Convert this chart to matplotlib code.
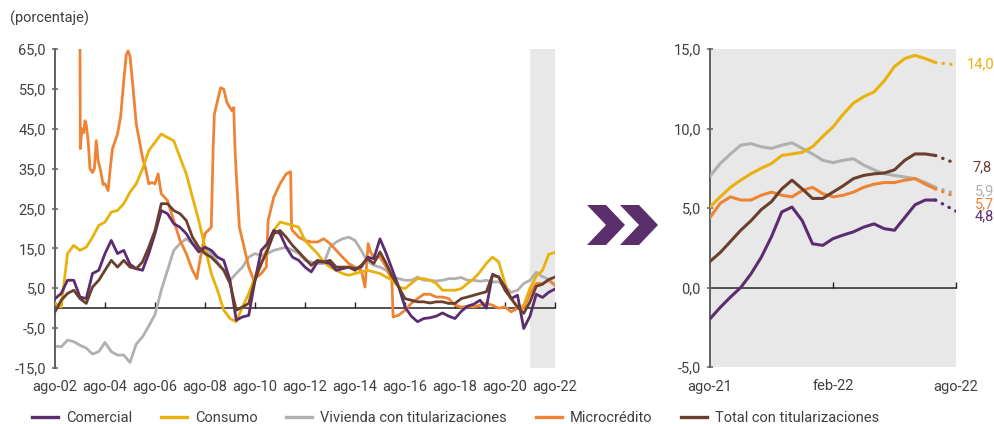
import matplotlib
matplotlib.use('Agg')
import matplotlib.pyplot as plt
import numpy as np
from matplotlib.patches import Polygon
from matplotlib.lines import Line2D
from matplotlib.ticker import FuncFormatter

plt.rcParams['font.family'] = ['Roboto', 'DejaVu Sans']

# ---------------- data (left panel: quarterly, from ago-02) ----------------
start_year = 2002 + 7 / 12  # ago-02
n_quarters = 81
x_tick_labels = ['ago-02', 'ago-04', 'ago-06', 'ago-08', 'ago-10', 'ago-12',
                 'ago-14', 'ago-16', 'ago-18', 'ago-20', 'ago-22']

comercial = [2.4, 3.7, 7.0, 7.0, 2.8, 2.4, 8.7, 9.5, 13.7, 17.0, 13.7, 14.5, 11.0, 9.9, 9.5, 13.7,
             18.7, 24.5, 23.7, 21.2, 20.3, 18.7, 16.2, 14.1, 15.3,
             14.5, 12.8, 12.0, 7.0, -3.0, -2.2, -1.8, 7.0, 14.5, 16.2, 19.5, 18.7, 15.3, 12.8, 12.0,
             10.3, 9.1, 11.6, 11.6, 11.2, 9.5, 9.9, 10.3, 9.9, 10.3,
             12.8, 12.4, 17.4, 13.7, 9.5, 5.3, 0.3, -2.0, -3.4, -2.6, -2.4, -2.0, -1.2, -2.0, -2.6,
             -0.8, 0.5, 1.0, 2.0, 0.0, 8.5, 7.8, 5.3, 2.4, 3.25, -5.1, -2.0, 3.5, 2.7, 4.0, 4.8]
consumo = [1.2, 0.3, 13.7, 15.75, 14.5, 15.3, 17.8, 20.75, 21.6, 24.1, 24.5, 26.2, 29.1, 31.2, 34.9,
           39.5, 41.6, 43.7, 42.8, 42.0, 37.8, 33.7, 27.8, 22.0, 15.3,
           8.7, 4.5, -0.5, -2.6, -3.4, 0.3, 3.7, 7.8, 11.2, 15.3, 19.5, 21.6, 21.2, 20.75, 20.3,
           17.0, 15.3, 13.7, 11.6, 10.3, 9.5, 8.7, 8.25, 8.7, 9.1,
           9.5, 9.1, 8.7, 7.8, 7.0, 5.3, 4.9, 6.2, 7.4, 7.4, 7.0, 6.2, 4.5, 4.5, 4.5,
           4.9, 6.2, 7.4, 9.1, 11.2, 12.8, 11.6, 6.2, 2.4, 0.0, 0.75, 5.0, 8.0, 9.5, 13.5, 14.0]
vivienda = [-9.5, -9.7, -8.0, -8.4, -9.3, -10.0, -11.5, -10.9, -8.6, -10.9, -11.75, -11.75, -13.6,
            -9.0, -7.2, -4.5, -1.6, 4.5, 9.5, 14.5, 16.2, 17.4, 16.2, 14.9, 14.5,
            13.7, 11.6, 9.5, 7.0, 8.7, 10.3, 12.8, 13.7, 13.2, 13.7, 14.5, 14.9, 15.3, 14.5, 13.7,
            12.0, 11.6, 11.2, 11.2, 15.3, 16.6, 17.4, 17.8, 17.0, 14.5,
            11.8, 10.75, 10.3, 9.5, 7.8, 7.4, 7.0, 7.0, 7.8, 7.0, 7.0, 6.8, 7.0, 7.4, 7.4,
            7.7, 7.0, 7.0, 6.75, 7.0, 6.6, 6.6, 5.3, 4.0, 4.5, 6.2, 7.0, 9.0, 7.9, 7.2, 5.9]
total = [-0.9, 2.0, 3.7, 4.5, 2.4, 1.2, 5.3, 7.0, 9.5, 12.0, 10.3, 12.0, 10.3, 9.9, 11.6, 15.3,
         19.5, 26.2, 26.2, 24.5, 23.7, 22.0, 17.8, 15.3, 13.7,
         12.8, 11.2, 9.5, 6.2, -0.5, 0.3, 1.2, 7.0, 11.2, 14.5, 18.7, 19.5, 17.8, 15.75, 14.1,
         12.4, 10.75, 12.0, 11.6, 12.0, 10.3, 10.3, 10.3, 9.5, 10.75,
         12.4, 11.2, 14.1, 11.2, 7.8, 5.3, 2.4, 2.0, 1.6, 1.6, 1.3, 1.6, 1.6, 1.2, 1.2,
         2.4, 2.8, 3.25, 3.7, 4.1, 8.25, 7.8, 4.5, 2.4, 0.3, -1.3, 1.6, 5.5, 6.0, 7.2, 7.8]
# Microcredito: irregular dates (quarter index since ago-02) and values
micro_q = [4.0, 4.05, 4.3, 4.6, 4.8, 5.0, 5.3, 5.6, 6.0, 6.3, 6.6, 6.9, 7.3, 7.7, 8.0, 8.5, 8.9,
           9.2, 10.0, 10.5, 11.0, 11.4, 11.7, 12.0, 12.5, 13.0, 13.5, 14.0, 14.5, 15.0, 15.5,
           16.0, 16.5, 17.0, 18.0, 19.0, 20.0, 21.0, 22.0, 22.7, 23.0, 24.0, 24.5, 25.0, 25.3,
           25.5, 26.0, 26.5, 27.0, 27.5, 28.0, 28.3, 28.6, 28.8, 29.0, 29.5, 30.0, 31.0, 31.8,
           32.0, 33.0, 33.8, 34.1, 35.0, 36.0, 37.0, 37.7, 37.85, 38.0, 39.0, 40.0, 41.0, 42.0,
           43.0, 44.0, 45.0, 46.0, 47.0, 48.0, 49.0, 49.6, 50.1, 50.5, 51.0, 52.0, 53.0, 53.9,
           54.1, 55.0, 56.0, 57.0, 58.0, 59.0, 60.0, 61.0, 62.0, 63.0, 64.0, 65.0, 66.0, 67.0,
           68.0, 69.0, 70.0, 71.0, 72.0, 73.0, 74.0, 75.0, 76.0, 77.0, 78.0, 79.0, 80.0]
micro_v = [65.0, 40.0, 45.0, 44.0, 47.0, 46.0, 42.0, 35.0, 34.0, 35.0, 42.0, 37.0, 34.5, 31.0,
           31.2, 29.5, 36.0, 40.0, 43.7, 48.0, 57.0, 63.5, 64.5, 63.2, 55.0, 46.2, 42.0, 37.8,
           35.0, 31.2, 31.5, 31.2, 33.7, 28.7, 27.0, 22.0, 17.0, 13.7, 9.5, 7.4, 10.3, 18.7,
           19.5, 20.3, 40.0, 48.7, 52.0, 55.3, 54.9, 51.6, 50.3, 49.5, 50.3, 40.0, 33.7, 20.3,
           17.0, 10.3, 7.0, 7.4, 8.7, 10.3, 22.0, 27.8, 31.2, 33.7, 34.2, 20.0, 19.5, 17.8,
           17.0, 16.6, 16.6, 17.4, 16.2, 14.5, 12.8, 11.2, 10.3, 9.5, 5.3, 16.2, 14.0, 12.8,
           12.8, 10.3, 7.0, -2.2, -1.75, -0.5, 1.2, 2.4, 3.5, 3.5, 2.8, 2.8, 2.4, 0.75, 0.3,
           0.5, 0.3, 0.75, 1.2, 0.75, 0.0, 0.3, -0.9, 0.0, 0.0, 3.7, 6.2, 6.2, 7.0, 5.7]

# ---------------- data (right panel: ago-21 .. ago-22, half-month steps) ----------------
r_months = [i * 0.5 for i in range(23)]           # 0 .. 11 months after ago-21
r_tick_pos = [0, 6, 12]
r_tick_labels = ['ago-21', 'feb-22', 'ago-22']
comercial_r = [-1.97, -1.25, -0.6, 0.0, 0.86, 1.9, 3.2, 4.75, 5.06, 4.2, 2.75, 2.65, 3.07, 3.3,
               3.5, 3.8, 4.0, 3.7, 3.6, 4.4, 5.2, 5.5, 5.5]
consumo_r = [5.06, 5.7, 6.3, 6.75, 7.16, 7.5, 7.8, 8.3, 8.4, 8.5, 8.85, 9.5, 10.1, 10.9, 11.6,
             12.0, 12.3, 13.0, 13.9, 14.4, 14.6, 14.4, 14.15]
vivienda_r = [7.0, 7.8, 8.4, 8.95, 9.05, 8.85, 8.75, 8.95, 9.1, 8.75, 8.4, 8.0, 7.85, 8.0, 8.1,
              7.7, 7.4, 7.15, 7.05, 6.95, 6.85, 6.6, 6.3]
micro_r = [4.4, 5.3, 5.7, 5.5, 5.5, 5.8, 6.0, 5.8, 5.7, 6.1, 6.3, 5.9, 5.7, 5.8, 6.0, 6.3, 6.5,
           6.6, 6.6, 6.75, 6.85, 6.5, 6.2]
total_r = [1.64, 2.2, 2.9, 3.6, 4.2, 4.9, 5.4, 6.2, 6.75, 6.2, 5.6, 5.6, 6.0, 6.4, 6.85, 7.05,
           7.15, 7.2, 7.4, 8.0, 8.4, 8.4, 8.3]
proj_months = [11, 12]
proj_final = {'Comercial': 4.8, 'Consumo': 14.0, 'Vivienda con titularizaciones': 5.9,
              'Microcrédito': 5.7, 'Total con titularizaciones': 7.8}

names = ['Comercial', 'Consumo', 'Vivienda con titularizaciones', 'Microcrédito',
         'Total con titularizaciones']
colors = {'Comercial': '#5B2C6F', 'Consumo': '#E9B10C',
          'Vivienda con titularizaciones': '#B0B0B0', 'Microcrédito': '#EE8433',
          'Total con titularizaciones': '#6B3F2E'}

TXT = '#404040'
SPINE = '#606060'
FS = 10.5

fig = plt.figure(figsize=(9.95, 4.24), dpi=100)

def px(x, y):
    return (x / 995, 1 - y / 424)

comma = FuncFormatter(lambda v, p: f"{v:.1f}".replace('.', ','))

# ---------------- left panel ----------------
ax = fig.add_axes([55 / 995, 1 - 368 / 424, 500 / 995, 319 / 424])
t_q = start_year + np.arange(n_quarters) / 4
t_micro = start_year + np.array(micro_q) / 4
ax.axvspan(start_year + 19, start_year + 20, color='#E8E8E8', lw=0, zorder=0)
lw = 2.0
ax.plot(t_q, vivienda, color=colors['Vivienda con titularizaciones'], lw=lw, zorder=2)
ax.plot(t_micro, micro_v, color=colors['Microcrédito'], lw=lw, zorder=3)
ax.plot(t_q, consumo, color=colors['Consumo'], lw=lw, zorder=3)
ax.plot(t_q, comercial, color=colors['Comercial'], lw=lw, zorder=4)
ax.plot(t_q, total, color=colors['Total con titularizaciones'], lw=lw, zorder=5)
ax.set_xlim(start_year, start_year + 20)
ax.set_ylim(-15, 65)
ax.set_yticks(np.arange(-15, 66, 10))
ax.yaxis.set_major_formatter(comma)
xt = start_year + 2 * np.arange(len(x_tick_labels))
ax.set_xticks(xt)
ax.set_xticklabels(x_tick_labels)
ax.tick_params(axis='x', length=0, pad=9, labelsize=FS, colors=TXT)
ax.tick_params(axis='y', direction='inout', length=5, width=1.1, color=SPINE, pad=4,
               labelsize=FS, labelcolor=TXT)
for s in ['top', 'right', 'bottom']:
    ax.spines[s].set_visible(False)
ax.spines['left'].set_color(SPINE)
ax.spines['left'].set_linewidth(1.4)
sec = ax.secondary_xaxis(0, transform=ax.transData)
sec.set_xticks(xt)
sec.tick_params(direction='in', length=4, width=1.0, color='#222222', labelbottom=False,
                labeltop=False)
for s in sec.spines.values():
    s.set_color('#222222')
    s.set_linewidth(1.1)

# ---------------- right panel ----------------
ax2 = fig.add_axes([710 / 995, 1 - 367 / 424, 246 / 995, 318 / 424])
ax2.set_facecolor('#E8E8E8')
series_r = {'Comercial': comercial_r, 'Consumo': consumo_r,
            'Vivienda con titularizaciones': vivienda_r, 'Microcrédito': micro_r,
            'Total con titularizaciones': total_r}
order = ['Vivienda con titularizaciones', 'Microcrédito', 'Consumo', 'Total con titularizaciones',
         'Comercial']
for nm in order:
    vals = series_r[nm]
    ax2.plot(r_months, vals, color=colors[nm], lw=2.2, solid_capstyle='round', zorder=3)
    ax2.plot(proj_months, [vals[-1], proj_final[nm]], color=colors[nm], lw=2.4,
             linestyle=(0, (0.1, 2.2)), dash_capstyle='round', zorder=3)
label_off = {'Consumo': (11, 1), 'Total con titularizaciones': (17, -4),
             'Vivienda con titularizaciones': (19, 2), 'Microcrédito': (19, -7),
             'Comercial': (19, -5)}
for nm in names:
    v = proj_final[nm]
    ax2.annotate(f"{v:.1f}".replace('.', ','), xy=(12, v), xytext=label_off[nm],
                 textcoords='offset pixels', ha='left', va='center', fontsize=FS,
                 color=colors[nm], annotation_clip=False)
ax2.set_xlim(0, 12)
ax2.set_ylim(-5, 15)
ax2.set_yticks([-5, 0, 5, 10, 15])
ax2.yaxis.set_major_formatter(comma)
ax2.set_xticks(r_tick_pos)
ax2.set_xticklabels(r_tick_labels)
ax2.tick_params(axis='x', length=0, pad=9, labelsize=FS, colors=TXT)
ax2.tick_params(axis='y', direction='inout', length=5, width=1.1, color=SPINE, pad=4,
                labelsize=FS, labelcolor=TXT)
for s in ['top', 'right', 'bottom']:
    ax2.spines[s].set_visible(False)
ax2.spines['left'].set_color(SPINE)
ax2.spines['left'].set_linewidth(1.4)
sec2 = ax2.secondary_xaxis(0, transform=ax2.transData)
sec2.set_xticks(r_tick_pos[1:])
sec2.tick_params(direction='in', length=4, width=1.0, color='#222222', labelbottom=False,
                 labeltop=False)
for s in sec2.spines.values():
    s.set_color('#222222')
    s.set_linewidth(1.1)

# ---------------- decorations ----------------
fig.text(*px(10, 18), '(porcentaje)', ha='left', va='center', fontsize=FS, color=TXT)

chev = '#5B2F6B'
for dx in (0, 33):
    pts = [px(587 + dx, 205), px(606 + dx, 205), px(625 + dx, 225), px(606 + dx, 245),
           px(587 + dx, 245), px(606 + dx, 225)]
    fig.add_artist(Polygon(pts, closed=True, transform=fig.transFigure, color=chev, lw=0))

handles = [Line2D([], [], color=colors[n], lw=2.4) for n in names]
fig.legend(handles, names, loc='center left', bbox_to_anchor=px(32, 418), ncol=5,
           frameon=False, handlelength=1.8, handletextpad=0.55, columnspacing=1.95,
           borderpad=0, borderaxespad=0, fontsize=FS, labelcolor=TXT)

fig.savefig('out.png', dpi=100)
